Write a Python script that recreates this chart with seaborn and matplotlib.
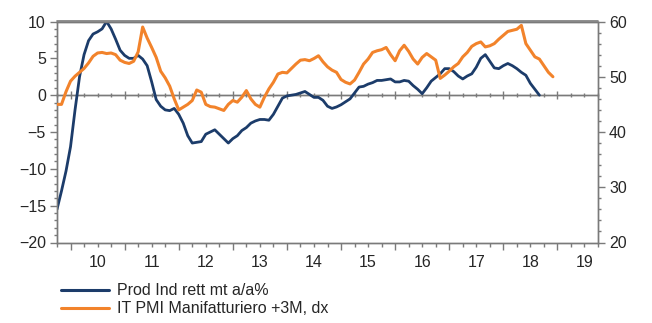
import numpy as np
import pandas as pd
import matplotlib
matplotlib.use("Agg")
import matplotlib.pyplot as plt
from matplotlib.ticker import FixedLocator, FuncFormatter, MultipleLocator, NullFormatter
from matplotlib.lines import Line2D
import seaborn as sns

# Monthly series, starting October 2009
start_year = 2009.75

prod_ind = [
    -15.5, -13.0, -10.3, -7.0, -2.0, 2.5, 5.5, 7.4, 8.3, 8.6, 9.0, 10.0,
    9.0, 7.6, 6.1, 5.4, 5.0, 5.0, 5.4, 4.9, 4.0, 1.8, -0.6, -1.5,
    -2.0, -2.1, -1.8, -2.6, -3.8, -5.5, -6.5, -6.4, -6.3, -5.3, -5.0, -4.7,
    -5.3, -5.9, -6.5, -5.9, -5.5, -4.8, -4.4, -3.8, -3.5, -3.3, -3.3, -3.4,
    -2.6, -1.5, -0.4, -0.1, 0.0, 0.1, 0.3, 0.5, 0.1, -0.3, -0.3, -0.7,
    -1.5, -1.8, -1.6, -1.3, -0.9, -0.5, 0.3, 1.1, 1.2, 1.5, 1.7, 2.0,
    2.0, 2.1, 2.2, 1.8, 1.8, 2.0, 1.9, 1.3, 0.8, 0.2, 1.0, 1.9,
    2.4, 2.9, 3.6, 3.6, 3.2, 2.6, 2.2, 2.6, 2.9, 3.8, 5.0, 5.5,
    4.6, 3.7, 3.6, 4.0, 4.3, 4.0, 3.6, 3.1, 2.7, 1.6, 0.8, 0.0,
]

pmi = [
    45.0, 45.0, 47.3, 49.2, 50.1, 50.8, 51.5, 52.5, 53.7, 54.3, 54.4, 54.2,
    54.3, 54.0, 53.0, 52.6, 52.4, 52.8, 54.5, 59.0, 57.0, 55.3, 53.5, 51.0,
    49.8, 48.3, 46.0, 44.0, 44.5, 45.0, 45.7, 47.6, 47.2, 45.0, 44.6, 44.5,
    44.2, 43.9, 45.0, 45.7, 45.4, 46.3, 47.5, 46.0, 45.0, 44.5, 46.3, 47.8,
    49.0, 50.5, 50.8, 50.7, 51.5, 52.3, 53.0, 53.1, 52.9, 53.3, 53.8, 52.7,
    51.8, 51.2, 50.8, 49.5, 49.0, 48.7, 49.4, 50.8, 52.3, 53.2, 54.4, 54.7,
    54.9, 55.3, 54.0, 52.9, 54.7, 55.7, 54.6, 53.2, 52.3, 53.5, 54.2, 53.6,
    53.0, 49.7, 50.3, 51.0, 51.8, 52.4, 53.6, 54.4, 55.5, 56.0, 56.3, 55.4,
    55.6, 56.0, 56.8, 57.5, 58.2, 58.4, 58.6, 59.3, 56.0, 54.8, 53.6, 53.2,
    52.0, 50.8, 50.0,
]

label_prod = "Prod Ind rett mt a/a%"
label_pmi = "IT PMI Manifatturiero +3M, dx"
year_labels = ["10", "11", "12", "13", "14", "15", "16", "17", "18", "19"]

df_prod = pd.DataFrame({"t": start_year + np.arange(len(prod_ind)) / 12, "v": prod_ind})
df_pmi = pd.DataFrame({"t": start_year + np.arange(len(pmi)) / 12, "v": pmi})

blue = "#1C3C6A"
orange = "#F2832B"
axis_col = "#7A7A7A"
text_col = "#262626"

sns.set_theme(style="white")
plt.rcParams["font.family"] = ["Liberation Sans", "DejaVu Sans"]

fig = plt.figure(figsize=(6.52, 3.23), dpi=100)
# plot area pinned to whole pixels
ax = fig.add_axes([57 / 652, 1 - 242.5 / 323, 541 / 652, 221 / 323])
ax2 = ax.twinx()

sns.lineplot(data=df_prod, x="t", y="v", ax=ax, color=blue, lw=2.0, zorder=3)
sns.lineplot(data=df_pmi, x="t", y="v", ax=ax2, color=orange, lw=2.2, zorder=3)

ax.set_xlim(2009.75, 2019.75)
ax.set_ylim(-20, 10)
ax2.set_ylim(20, 60)
for a in (ax, ax2):
    a.set_xlabel("")
    a.set_ylabel("")
    for s in a.spines.values():
        s.set_visible(True)
        s.set_color(axis_col)
        s.set_linewidth(1.0)

# year boundaries as major ticks, quarters as minor ticks, labels at mid-year
years = [2010 + i for i in range(10)]
quarters = [2009.75 + 0.25 * i for i in range(41)]
mid_years = [y + 0.5 for y in years]
ax.xaxis.set_major_locator(FixedLocator(years))
ax.xaxis.set_minor_locator(FixedLocator(quarters))
ax.xaxis.set_major_formatter(FuncFormatter(lambda v, p: ""))
lab_map = {round(m, 2): l for m, l in zip(mid_years, year_labels)}
ax.xaxis.set_minor_formatter(FuncFormatter(lambda v, p: lab_map.get(round(v, 2), "")))
ax.tick_params(axis="x", which="major", bottom=True, length=5, width=1, color=axis_col, direction="out")
ax.tick_params(axis="x", which="minor", bottom=True, length=3, width=1, color=axis_col,
               direction="out", labelsize=11.5, labelcolor=text_col, pad=6)

ax.yaxis.set_major_locator(MultipleLocator(5))
ax.yaxis.set_minor_locator(MultipleLocator(1))
ax.tick_params(axis="y", which="major", left=True, length=5, width=1, color=axis_col,
               labelsize=11.5, labelcolor=text_col, pad=3)
ax.tick_params(axis="y", which="minor", left=True, length=2.5, width=1, color=axis_col)

ax2.yaxis.set_major_locator(MultipleLocator(10))
ax2.yaxis.set_minor_locator(MultipleLocator(2))
ax2.tick_params(axis="y", which="major", right=True, length=5, width=1, color=axis_col,
                labelsize=11.5, labelcolor=text_col, pad=3)
ax2.tick_params(axis="y", which="minor", right=True, length=2.5, width=1, color=axis_col)

# zero line with its own tick marks
ax.axhline(0, color=axis_col, lw=1.0, zorder=1)
zero_axis = ax.secondary_xaxis(2 / 3)
zero_axis.xaxis.set_major_locator(FixedLocator(years))
zero_axis.xaxis.set_minor_locator(FixedLocator(quarters))
zero_axis.xaxis.set_major_formatter(NullFormatter())
zero_axis.xaxis.set_minor_formatter(NullFormatter())
zero_axis.tick_params(which="major", direction="inout", length=6, width=1, color=axis_col)
zero_axis.tick_params(which="minor", direction="inout", length=3, width=1, color=axis_col)
for s in zero_axis.spines.values():
    s.set_color(axis_col)
    s.set_linewidth(1.0)

# top border of the plot frame
fig.add_artist(Line2D([57 / 652, 598 / 652], [1 - 21 / 323, 1 - 21 / 323],
                      transform=fig.transFigure, color=axis_col, lw=1.2, zorder=10))

handles = [Line2D([], [], color=blue, lw=2.2), Line2D([], [], color=orange, lw=2.2)]
fig.legend(handles, [label_prod, label_pmi], loc="upper left",
           bbox_to_anchor=(58 / 652, 1 - 280 / 323), frameon=False,
           fontsize=11.5, handlelength=3.0, handletextpad=0.5,
           labelspacing=0.2, borderaxespad=0, borderpad=0.2,
           labelcolor=text_col)

fig.savefig("out.png", dpi=100, facecolor="white")
